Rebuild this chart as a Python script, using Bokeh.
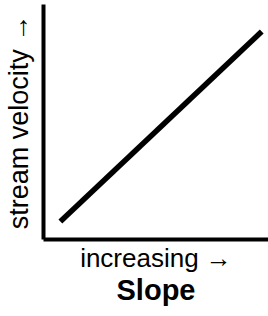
from bokeh.plotting import figure
from bokeh.models import FixedTicker, Range1d, Title
from bokeh.embed import file_html
from bokeh.resources import INLINE

# data (arbitrary units)
slope = [0.75, 9.7]
velocity = [0.77, 8.85]
x_label = "increasing \u2192"
y_label = "stream velocity \u2192"
title_text = "Slope"

FONT = "Liberation Sans"

p = figure(width=268, height=316, output_backend="svg", toolbar_location=None,
           x_range=Range1d(0, 10), y_range=Range1d(0, 10),
           min_border_left=42, min_border_right=0, min_border_top=4,
           min_border_bottom=77)
p.outline_line_color = None
p.grid.visible = False
p.background_fill_color = "white"
p.border_fill_color = "white"

p.line(slope, velocity, line_width=5.5, line_color="black", line_cap="butt")

for ax in (p.xaxis[0], p.yaxis[0]):
    ax.ticker = FixedTicker(ticks=[])
    ax.major_tick_out = 0
    ax.major_tick_in = 0
    ax.minor_tick_out = 0
    ax.minor_tick_in = 0
    ax.major_label_text_font_size = "0px"
    ax.major_label_standoff = 0
    ax.axis_line_width = 4
    ax.axis_line_color = "black"
    ax.axis_label_text_font = FONT
    ax.axis_label_text_font_style = "normal"
    ax.axis_label_text_color = "black"

p.xaxis.axis_label = x_label
p.yaxis.axis_label = y_label
p.xaxis.axis_label_text_font_size = "26px"
p.yaxis.axis_label_text_font_size = "27px"
p.xaxis.axis_label_standoff = 3
p.yaxis.axis_label_standoff = 10

t = Title(text=title_text, align="center", text_font=FONT, text_font_size="29px",
          text_font_style="bold", text_color="black", standoff=-4,
          vertical_align="top")
p.add_layout(t, "below")

open("out.html", "w").write(file_html(p, INLINE))
